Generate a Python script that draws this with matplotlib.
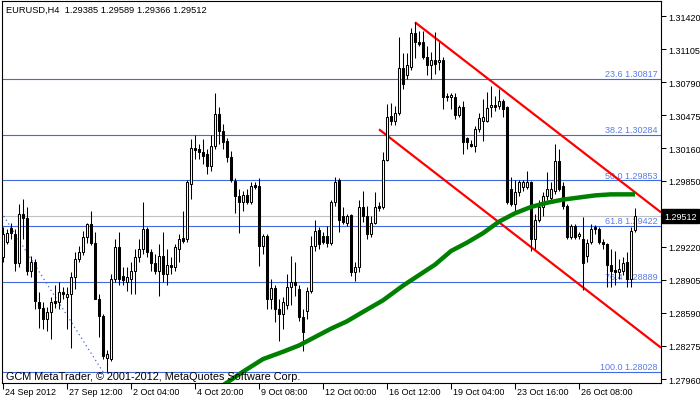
import matplotlib
matplotlib.use("Agg")
import matplotlib.pyplot as plt
import matplotlib.transforms as mtransforms

plt.rcParams['font.family'] = ['Liberation Sans', 'DejaVu Sans']

# ---------------------------------------------------------------------------
# EURUSD H4 bars (bar index 0 = 24 Sep 2012 20:00), prices
# ---------------------------------------------------------------------------
opens = [
    1.2912, 1.2927, 1.2940, 1.2934, 1.2907, 1.2953, 1.2949, 1.2899, 1.2908, 1.2869,
    1.2864, 1.2853, 1.2860, 1.2870, 1.2869, 1.2879, 1.2874, 1.2877, 1.2893, 1.2910,
    1.2917, 1.2931, 1.2944, 1.2926, 1.2872, 1.2856, 1.2816, 1.2815, 1.2891, 1.2922,
    1.2894, 1.2888, 1.2891, 1.2899, 1.2912, 1.2920, 1.2939, 1.2917, 1.2907, 1.2899,
    1.2913, 1.2896, 1.2905, 1.2903, 1.2920, 1.2930, 1.2929, 1.2982, 1.3016, 1.3015,
    1.3012, 1.3010, 1.2999, 1.3018, 1.3049, 1.3032, 1.3023, 1.3008, 1.2985, 1.2970,
    1.2965, 1.2971, 1.2965, 1.2981, 1.2980, 1.2923, 1.2932, 1.2872, 1.2883, 1.2863,
    1.2858, 1.2867, 1.2884, 1.2888, 1.2882, 1.2855, 1.2861, 1.2880, 1.2923, 1.2938,
    1.2932, 1.2932, 1.2926, 1.2965, 1.2986, 1.2951, 1.2945, 1.2952, 1.2898, 1.2903,
    1.2960, 1.2951, 1.2934, 1.2945, 1.2961, 1.2960, 1.3005, 1.3047, 1.3042, 1.3050,
    1.3092, 1.3086, 1.3093, 1.3126, 1.3117, 1.3117, 1.3103, 1.3095, 1.3100, 1.3098,
    1.3100, 1.3066, 1.3065, 1.3065, 1.3048, 1.3055, 1.3026, 1.3020, 1.3018, 1.3034,
    1.3042, 1.3042, 1.3055, 1.3057, 1.3056, 1.3061, 1.3055, 1.2977, 1.2963, 1.2974,
    1.2979, 1.2979, 1.2984, 1.2929, 1.2948, 1.2960, 1.2970, 1.2969, 1.2975, 1.3004,
    1.2980, 1.2961, 1.2931, 1.2942, 1.2932, 1.2929, 1.2913, 1.2927, 1.2941, 1.2939,
    1.2927, 1.2925, 1.2905, 1.2900, 1.2898, 1.2899, 1.2908, 1.2891, 1.29385,
]
highs = [
    1.2941, 1.2939, 1.2945, 1.2939, 1.2963, 1.2968, 1.2960, 1.2913, 1.2910, 1.2879,
    1.2869, 1.2865, 1.2874, 1.2886, 1.2888, 1.2884, 1.2884, 1.2898, 1.2917, 1.2923,
    1.2937, 1.2945, 1.2956, 1.2936, 1.2877, 1.2858, 1.2824, 1.2896, 1.2929, 1.2936,
    1.2903, 1.2903, 1.2908, 1.2920, 1.2929, 1.2965, 1.2941, 1.2920, 1.2915, 1.2925,
    1.2936, 1.2920, 1.2912, 1.2925, 1.2934, 1.2956, 1.2986, 1.3025, 1.3029, 1.3020,
    1.3025, 1.3015, 1.3029, 1.3069, 1.3055, 1.3039, 1.3026, 1.3013, 1.2988, 1.2977,
    1.2975, 1.2977, 1.2984, 1.2984, 1.2988, 1.2934, 1.2934, 1.2891, 1.2886, 1.2872,
    1.2874, 1.2896, 1.2913, 1.2908, 1.2886, 1.2863, 1.2884, 1.2932, 1.2948, 1.2941,
    1.2936, 1.2942, 1.2967, 1.2989, 1.2988, 1.2960, 1.2953, 1.2953, 1.2908, 1.2967,
    1.2975, 1.2961, 1.2951, 1.2974, 1.2965, 1.3012, 1.3058, 1.3059, 1.3056, 1.3122,
    1.3107, 1.3107, 1.3131, 1.3136, 1.3128, 1.3128, 1.3113, 1.3108, 1.3127, 1.3117,
    1.3103, 1.3069, 1.3069, 1.3069, 1.3057, 1.3061, 1.3027, 1.3024, 1.3037, 1.3050,
    1.3063, 1.3070, 1.3075, 1.3066, 1.3072, 1.3063, 1.3056, 1.2989, 1.2986, 1.2986,
    1.2986, 1.2994, 1.2985, 1.2953, 1.2967, 1.2974, 1.2993, 1.2984, 1.3020, 1.3015,
    1.2984, 1.2963, 1.2944, 1.2944, 1.2936, 1.2950, 1.2929, 1.2944, 1.2943, 1.2941,
    1.2929, 1.2926, 1.2920, 1.2918, 1.2910, 1.2912, 1.2917, 1.2941, 1.29589,
]
lows = [
    1.2908, 1.2925, 1.2929, 1.2899, 1.2903, 1.2929, 1.2895, 1.2893, 1.2863, 1.2845,
    1.2844, 1.2842, 1.2834, 1.2864, 1.2863, 1.2872, 1.2844, 1.2826, 1.2882, 1.2908,
    1.2914, 1.2926, 1.2924, 1.2872, 1.2836, 1.2815, 1.2803, 1.2813, 1.2888, 1.2886,
    1.2886, 1.2880, 1.2877, 1.2877, 1.2908, 1.2915, 1.2912, 1.2899, 1.2896, 1.2875,
    1.2888, 1.2886, 1.2896, 1.2899, 1.2908, 1.2926, 1.2927, 1.2968, 1.3006, 1.3006,
    1.3001, 1.2991, 1.2994, 1.3015, 1.3020, 1.3015, 1.3003, 1.2984, 1.2954, 1.2935,
    1.2956, 1.2963, 1.2963, 1.2977, 1.2904, 1.2915, 1.2863, 1.2863, 1.2850, 1.2832,
    1.2844, 1.2863, 1.2867, 1.2875, 1.2851, 1.2823, 1.2853, 1.2878, 1.2918, 1.2920,
    1.2925, 1.2922, 1.2924, 1.2961, 1.2936, 1.2944, 1.2942, 1.2894, 1.2889, 1.2898,
    1.2946, 1.2929, 1.2931, 1.2944, 1.2956, 1.2958, 1.3004, 1.3038, 1.3038, 1.3048,
    1.3072, 1.3082, 1.3091, 1.3102, 1.3113, 1.3101, 1.3086, 1.3082, 1.3087, 1.3091,
    1.3053, 1.3061, 1.3053, 1.3044, 1.3046, 1.3010, 1.3015, 1.3017, 1.3012, 1.3031,
    1.3023, 1.3041, 1.3046, 1.3051, 1.3053, 1.3046, 1.2963, 1.2961, 1.2956, 1.2970,
    1.2975, 1.2977, 1.2918, 1.2920, 1.2946, 1.2951, 1.2967, 1.2965, 1.2972, 1.2975,
    1.2958, 1.2929, 1.2929, 1.2929, 1.2929, 1.2881, 1.2908, 1.2925, 1.2934, 1.2925,
    1.2920, 1.2884, 1.2884, 1.2886, 1.2891, 1.2895, 1.2884, 1.2884, 1.29366,
]
closes = [
    1.2934, 1.2935, 1.2935, 1.2907, 1.2953, 1.2949, 1.2899, 1.2908, 1.2870, 1.2864,
    1.2853, 1.2860, 1.2869, 1.2868, 1.2879, 1.2877, 1.2877, 1.2893, 1.2910, 1.2917,
    1.2931, 1.2944, 1.2926, 1.2872, 1.2856, 1.2818, 1.2820, 1.2891, 1.2922, 1.2891,
    1.2890, 1.2893, 1.2899, 1.2912, 1.2920, 1.2939, 1.2917, 1.2907, 1.2899, 1.2913,
    1.2896, 1.2905, 1.2903, 1.2922, 1.2929, 1.2928, 1.2984, 1.3016, 1.3014, 1.3012,
    1.3009, 1.2999, 1.3018, 1.3049, 1.3032, 1.3022, 1.3008, 1.2986, 1.2970, 1.2965,
    1.2971, 1.2965, 1.2980, 1.2979, 1.2923, 1.2932, 1.2872, 1.2883, 1.2863, 1.2858,
    1.2869, 1.2884, 1.2888, 1.2886, 1.2855, 1.2841, 1.2880, 1.2923, 1.2937, 1.2925,
    1.2927, 1.2926, 1.2965, 1.2984, 1.2948, 1.2946, 1.2951, 1.2898, 1.2903, 1.2960,
    1.2951, 1.2934, 1.2945, 1.2960, 1.2959, 1.3005, 1.3046, 1.3042, 1.3050, 1.3092,
    1.3077, 1.3095, 1.3126, 1.3117, 1.3115, 1.3103, 1.3095, 1.3100, 1.3096, 1.3100,
    1.3065, 1.3065, 1.3067, 1.3048, 1.3055, 1.3022, 1.3022, 1.3018, 1.3034, 1.3045,
    1.3046, 1.3054, 1.3057, 1.3055, 1.3061, 1.3053, 1.2965, 1.2963, 1.2974, 1.2984,
    1.2984, 1.2984, 1.2929, 1.2948, 1.2960, 1.2970, 1.2977, 1.2977, 1.3004, 1.2977,
    1.2961, 1.2931, 1.2942, 1.2931, 1.2934, 1.2907, 1.2926, 1.2939, 1.2939, 1.2927,
    1.2925, 1.2905, 1.2899, 1.2898, 1.2901, 1.2907, 1.2891, 1.2937, 1.29512,
]

# moving average (sampled along its path)
ma_idx = [55, 60, 65, 70, 74, 78, 82, 86, 90, 95, 100, 104, 108, 112, 116,
          120, 124, 128, 132, 136, 140, 144, 148, 152, 158]
ma_val = [1.2790, 1.2803, 1.2815, 1.2822, 1.2828, 1.2836, 1.2844, 1.2851,
          1.2860, 1.2871, 1.2885, 1.2895, 1.2905, 1.2918, 1.2926, 1.2935,
          1.2946, 1.2954, 1.2960, 1.2964, 1.2967, 1.2969, 1.2971, 1.2972, 1.2972]

# Fibonacci retracement
fib_levels = ["23.6", "38.2", "50.0", "61.8", "76.4", "100.0"]
fib_prices = [1.30817, 1.30284, 1.29853, 1.29422, 1.28889, 1.28028]
fib_anchor_idx = [-36, 25]
fib_anchor_px = [1.31678, 1.28028]

# channel trendlines (two anchors each, drawn as rays)
upper_idx = [103, 158]
upper_px = [1.3136, 1.2974]
lower_idx = [94, 158]
lower_px = [1.3034, 1.2845]

bid = 1.29512
price_ticks = [1.31420, 1.31105, 1.30790, 1.30475, 1.30160, 1.29850,
               1.29220, 1.28905, 1.28590, 1.28275, 1.27960]
date_idx = [0, 16, 32, 48, 64, 80, 96, 112, 128, 144]
date_labels = ["24 Sep 2012", "27 Sep 12:00", "2 Oct 04:00", "4 Oct 20:00",
               "9 Oct 08:00", "12 Oct 00:00", "16 Oct 12:00", "19 Oct 04:00",
               "23 Oct 16:00", "26 Oct 08:00"]

FIB_BLUE = '#4169e1'
FS = 6.5

# ---------------------------------------------------------------------------
fig = plt.figure(figsize=(7.0, 4.02), dpi=100)
ax = fig.add_axes([2 / 700, 18 / 402, 659 / 700, 382 / 402])
XMAX = 164.5
ax.set_xlim(-0.25, XMAX)
ax.set_ylim(1.27922, 1.31563)

# fib + bid lines (background)
ax.axhline(bid, color='#c0c0c0', lw=0.8, zorder=1)
blend = mtransforms.blended_transform_factory(ax.transAxes, ax.transData)
for lvl, p in zip(fib_levels, fib_prices):
    ax.axhline(p, color=FIB_BLUE, lw=0.8, zorder=1)
    ax.annotate(f"{lvl} {p:.5f}", xy=(1.0, p), xycoords=blend,
                xytext=(-2.5, 0.6), textcoords='offset points',
                ha='right', va='bottom', fontsize=FS, color='#5a7ce6', zorder=1)
ax.plot(fib_anchor_idx, fib_anchor_px, color=FIB_BLUE, lw=0.9,
        linestyle=(0, (1, 2.5)), zorder=1)

# channel rays
for idx, px in ((upper_idx, upper_px), (lower_idx, lower_px)):
    slope = (px[1] - px[0]) / (idx[1] - idx[0])
    ax.plot([idx[0], XMAX], [px[0], px[0] + slope * (XMAX - idx[0])],
            color='red', lw=1.6, zorder=2, solid_capstyle='butt')

# candles
xs = list(range(len(opens)))
ax.vlines(xs, lows, highs, color='black', lw=0.75, zorder=3)
bottoms = [min(o, c) for o, c in zip(opens, closes)]
heights = [abs(c - o) for o, c in zip(opens, closes)]
fills = ['white' if c > o else 'black' for o, c in zip(opens, closes)]
ax.bar(xs, heights, bottom=bottoms, width=0.5, color=fills,
       edgecolor='black', linewidth=0.75, zorder=3.5)

# moving average
ax.plot(ma_idx, ma_val, color='#008000', lw=3.2, zorder=4,
        solid_capstyle='butt', solid_joinstyle='miter')

# axes / ticks
for s in ax.spines.values():
    s.set_color('black')
    s.set_linewidth(0.8)
ax.yaxis.tick_right()
ax.set_yticks(price_ticks)
ax.set_yticklabels([f"{v:.5f}" for v in price_ticks])
ax.tick_params(axis='y', direction='out', length=3.5, width=0.75, pad=2,
               labelsize=FS, colors='black')
ax.set_xticks(date_idx)
ax.set_xticklabels([])
ax.tick_params(axis='x', direction='out', length=4, width=0.75)
xblend = mtransforms.blended_transform_factory(ax.transData, ax.transAxes)
for i, lab in zip(date_idx, date_labels):
    ax.text(i + 0.45, -0.011, lab, transform=xblend, ha='left', va='top',
            fontsize=FS, color='black', clip_on=False)

# current price box
ax.text(1.0 + 3 / 659, bid, f"{bid:.5f}", transform=blend, ha='left',
        va='center', fontsize=FS, color='white', clip_on=False,
        bbox=dict(boxstyle='square,pad=0.25', fc='black', ec='black'))

# captions
fig.text(6 / 700, 1 - 10.5 / 402, "EURUSD,H4  1.29385 1.29589 1.29366 1.29512",
         ha='left', va='center', fontsize=6.7, color='black')
ax.text(4 / 659, 6.5 / 382, "GCM MetaTrader, \u00a9 2001-2012, MetaQuotes Software Corp.",
        transform=ax.transAxes, ha='left', va='center', fontsize=7.8,
        color='black', zorder=5)

fig.savefig('out.png', dpi=100, facecolor='white')
